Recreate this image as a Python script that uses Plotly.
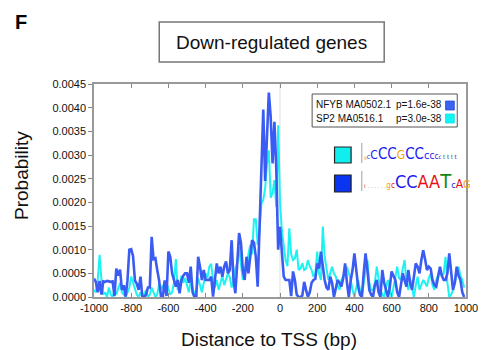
import plotly.graph_objects as go

# ---------------- data ----------------
positions_bp = list(range(-1000, 1000, 10))  # -1000 .. 990

# NFYB (blue) probability, in units of 1e-4
nfyb_e4 = [
    3.9, 3.2, 1.0, 3.4, 0.5, 3.3, 3.2, 3.4, 3.3, 3.2,      # -1000..-910
    3.3, 0.2, 6.0, 4.5, 5.8, 1.5, 2.5, 0.1, 3.5, 10.0,     # -900..-810
    10.1, 8.6, 3.5, 2.8, 1.5, 4.3, 0.0, 0.0, 0.5, 2.0,     # -800..-710
    2.0, 12.7, 8.0, 8.2, 5.7, 3.5, 0.2, 0.0, 3.5, 0.2,     # -700..-610
    9.6, 8.5, 5.0, 3.5, 2.2, 3.6, 0.8, 3.5, 4.5, 5.0,      # -600..-510
    5.0, 3.0, 6.4, 1.0, 0.0, 0.1, 8.5, 6.4, 3.6, 5.7,      # -500..-410
    3.6, 3.6, 3.6, 4.3, 0.1, 3.6, 7.1, 5.0, 6.4, 4.3,      # -400..-310
    6.4, 7.5, 5.0, 5.7, 12.0, 3.6, 0.8, 7.0, 13.5, 11.5,   # -300..-210
    5.7, 3.6, 8.5, 5.0, 8.5, 12.0, 11.5, 8.5, 2.2, 14.0,   # -200..-110
    30.0, 39.6, 24.5, 33.0, 43.2, 38.0, 28.2, 37.0, 27.0, 10.0,  # -100..-10
    14.8, 9.6, 4.3, 3.6, 3.6, 3.6, 0.2, 5.4, 3.6, 0.5,     # 0..90
    0.0, 0.0, 0.3, 3.2, 1.5, 0.0, 1.0, 3.0, 3.6, 3.8,      # 100..190
    7.1, 6.0, 9.6, 6.0, 3.6, 2.0, 1.5, 4.3, 3.0, 0.0,      # 200..290
    1.5, 3.6, 3.0, 2.2, 4.0, 7.1, 3.0, 0.0, 3.5, 5.7,      # 300..390
    9.2, 6.0, 2.2, 0.5, 0.0, 5.0, 9.2, 5.7, 1.5, 0.5,      # 400..490
    0.0, 2.5, 3.6, 1.0, 0.0, 5.7, 3.0, 1.5, 0.0, 2.0,      # 500..590
    5.4, 4.5, 3.6, 1.0, 0.0, 2.5, 5.0, 3.5, 2.2, 5.7,      # 600..690
    3.0, 1.5, 4.0, 7.1, 6.4, 5.0, 7.8, 9.9, 8.0, 5.7,      # 700..790
    6.4, 6.0, 3.6, 2.5, 2.2, 4.0, 6.4, 4.5, 3.6, 3.6,      # 800..890
    5.0, 9.2, 5.0, 1.5, 3.0, 6.4, 4.5, 3.6, 1.0, 0.0,      # 900..990
]

# SP2 (cyan) probability, in units of 1e-4
sp2_e4 = [
    1.5, 1.0, 3.6, 8.9, 3.6, 0.5, 1.0, 0.0, 2.0, 0.5,      # -1000..-910
    0.0, 1.5, 0.5, 2.0, 3.0, 1.0, 0.5, 0.0, 1.0, 2.0,      # -900..-810
    4.3, 3.0, 1.5, 0.5, 0.0, 1.0, 0.0, 0.5, 1.5, 0.0,      # -800..-710
    0.5, 2.0, 1.0, 0.0, 0.5, 2.8, 1.5, 2.5, 1.5, 3.0,      # -700..-610
    1.8, 0.5, 1.0, 3.0, 8.0, 1.5, 2.2, 4.5, 3.0, 4.0,      # -600..-510
    2.5, 1.0, 3.5, 2.0, 0.5, 1.5, 4.0, 2.5, 1.0, 3.0,      # -500..-410
    5.0, 4.0, 6.4, 7.0, 3.5, 2.0, 3.6, 1.5, 2.8, 4.5,      # -400..-310
    2.5, 3.8, 5.0, 4.2, 2.0, 3.5, 6.0, 7.1, 10.6, 7.0,     # -300..-210
    3.6, 6.4, 5.5, 9.0, 11.0, 9.0, 16.4, 16.4, 11.0, 14.0, # -200..-110
    19.8, 20.5, 23.0, 28.0, 31.0, 21.0, 22.0, 24.7, 19.0, 36.3,  # -100..-10
    20.0, 14.0, 10.6, 7.8, 6.5, 14.5, 9.0, 7.8, 8.2, 10.0, # 0..90
    5.7, 6.0, 7.1, 5.7, 6.0, 7.8, 6.5, 5.7, 4.3, 5.0,      # 100..190
    9.6, 5.0, 3.6, 14.9, 8.5, 6.0, 3.6, 5.0, 6.4, 5.0,     # 200..290
    4.3, 2.5, 1.5, 3.6, 4.5, 5.0, 6.4, 5.0, 3.6, 1.5,      # 300..390
    0.0, 2.0, 3.6, 1.5, 0.0, 3.0, 5.0, 7.8, 3.0, 1.5,      # 400..490
    1.5, 3.0, 6.4, 4.0, 1.5, 0.5, 0.0, 2.0, 3.6, 1.5,      # 500..590
    0.0, 2.0, 4.5, 6.4, 4.0, 3.6, 6.0, 7.8, 3.0, 1.5,      # 600..690
    3.6, 1.5, 0.0, 2.5, 4.3, 1.5, 2.5, 3.6, 3.0, 2.2,      # 700..790
    4.0, 5.0, 2.5, 1.5, 3.6, 4.5, 5.7, 4.3, 5.0, 8.5,      # 800..890
    3.0, 0.0, 0.5, 1.5, 3.0, 4.3, 6.4, 4.5, 3.6, 2.0,      # 900..990
]

x_tick_vals = [-1000, -800, -600, -400, -200, 0, 200, 400, 600, 800, 1000]
x_tick_text = ["-1000", "-800", "-600", "-400", "-200", "0", "200", "400", "600", "800", "1000"]
y_tick_vals = [0.0, 0.0005, 0.0010, 0.0015, 0.0020, 0.0025, 0.0030, 0.0035, 0.0040, 0.0045]

legend_names = ["NFYB MA0502.1", "SP2 MA0516.1"]
legend_pvals = ["p=1.6e-38", "p=3.0e-38"]

BLUE = "#3a5cf2"
CYAN = "#1cf2f2"
FONT = "Liberation Sans, Arial, Helvetica, sans-serif"

nfyb = [v * 1e-4 for v in nfyb_e4]
sp2 = [v * 1e-4 for v in sp2_e4]

# ---------------- layout geometry (pixels) ----------------
W, H = 490, 350
L, R, T, B = 94, 476, 84, 297


def px(x):
    return (x - L) / (R - L)


def py(y):
    return (B - y) / (B - T)


fig = go.Figure()
fig.add_trace(go.Scatter(x=positions_bp, y=sp2, mode="lines",
                         line=dict(color=CYAN, width=2), showlegend=False))
fig.add_trace(go.Scatter(x=positions_bp, y=nfyb, mode="lines",
                         line=dict(color=BLUE, width=2.6), showlegend=False))

shapes = []
shapes.append(dict(type="line", xref="x", yref="paper", x0=0, x1=0, y0=0, y1=1,
                   line=dict(color="#dddddd", width=1), layer="below"))
shapes.append(dict(type="rect", xref="paper", yref="paper",
                   x0=px(161), x1=px(392), y0=py(62), y1=py(22),
                   line=dict(color="#777777", width=1.5)))
shapes.append(dict(type="rect", xref="paper", yref="paper",
                   x0=px(318), x1=px(467), y0=py(127), y1=py(94),
                   line=dict(color="#555555", width=1), fillcolor="white"))
shapes.append(dict(type="rect", xref="paper", yref="paper",
                   x0=px(455), x1=px(464), y0=py(110), y1=py(101),
                   line=dict(color="#2a4ad8", width=0.8), fillcolor="#3b63f0"))
shapes.append(dict(type="rect", xref="paper", yref="paper",
                   x0=px(455), x1=px(464), y0=py(123), y1=py(114),
                   line=dict(color="#11dede", width=0.8), fillcolor="#11f5f5"))
shapes.append(dict(type="rect", xref="paper", yref="paper",
                   x0=px(341), x1=px(358), y0=py(163), y1=py(147),
                   line=dict(color="#222222", width=1.2), fillcolor="#11eeee"))
shapes.append(dict(type="rect", xref="paper", yref="paper",
                   x0=px(341), x1=px(358), y0=py(192), y1=py(175),
                   line=dict(color="#222222", width=1.2), fillcolor="#0a35f0"))
for y0, y1 in [(143, 163), (171, 191)]:
    shapes.append(dict(type="line", xref="paper", yref="paper",
                       x0=px(369), x1=px(369), y0=py(y1), y1=py(y0),
                       line=dict(color="#888888", width=0.8)))

annotations = []
annotations.append(dict(text="<b>F</b>", x=px(11), y=py(22), xref="paper", yref="paper",
                        xanchor="left", yanchor="middle", showarrow=False,
                        font=dict(family=FONT, size=20, color="black")))
annotations.append(dict(text="Down-regulated genes", x=px(276), y=py(42), xref="paper",
                        yref="paper", xanchor="center", yanchor="middle", showarrow=False,
                        font=dict(family=FONT, size=19, color="#111111")))
annotations.append(dict(text="Probability", x=px(19), y=py(175), xref="paper", yref="paper",
                        xanchor="center", yanchor="middle", showarrow=False, textangle=-90,
                        font=dict(family=FONT, size=19, color="#111111")))
annotations.append(dict(text="Distance to TSS (bp)", x=px(274), y=py(339), xref="paper",
                        yref="paper", xanchor="center", yanchor="middle", showarrow=False,
                        font=dict(family=FONT, size=19, color="#111111")))
for i, (nm, pv) in enumerate(zip(legend_names, legend_pvals)):
    yy = 104.5 + i * 14
    annotations.append(dict(text=nm, x=px(320), y=py(yy), xref="paper", yref="paper",
                            xanchor="left", yanchor="middle", showarrow=False,
                            font=dict(family=FONT, size=10, color="#111111")))
    annotations.append(dict(text=pv, x=px(453), y=py(yy), xref="paper", yref="paper",
                            xanchor="right", yanchor="middle", showarrow=False,
                            font=dict(family=FONT, size=10, color="#111111")))


def sp(t, color, size):
    return f"<span style='color:{color};font-size:{size}px'>{t}</span>"


BL, OR, RD, GR = "#1a1aee", "#f5a300", "#e81010", "#118811"
logo1 = (sp("g", OR, 5) + sp("c", BL, 7) + sp("C", BL, 12) + sp("C", BL, 15) + sp("C", BL, 15)
         + sp("G", OR, 12) + sp("C", BL, 15) + sp("C", BL, 15) + sp("c", BL, 11)
         + sp("c", BL, 10) + sp("c", BL, 8) + sp("c", BL, 6) + sp(" t", GR, 6)
         + sp(" t", BL, 6) + sp(" t", GR, 6) + sp(" t", BL, 6))
logo2 = (sp("t", RD, 5) + sp(" . . . . . .", "#999999", 6) + sp("g", OR, 8) + sp("c", RD, 8)
         + sp("C", BL, 18) + sp("C", BL, 18) + sp("A", RD, 18) + sp("A", RD, 18)
         + sp("T", GR, 20) + sp("c", BL, 9) + sp("A", RD, 12) + sp("G", OR, 11))
annotations.append(dict(text=logo1, x=px(370), y=py(164), xref="paper", yref="paper",
                        xanchor="left", yanchor="bottom", showarrow=False,
                        font=dict(family="DejaVu Sans Condensed, Liberation Sans Narrow, sans-serif",
                                  size=12), borderpad=0))
annotations.append(dict(text=logo2, x=px(370), y=py(194), xref="paper", yref="paper",
                        xanchor="left", yanchor="bottom", showarrow=False,
                        font=dict(family="DejaVu Sans Condensed, Liberation Sans Narrow, sans-serif",
                                  size=12), borderpad=0))

fig.update_layout(
    width=W, height=H,
    margin=dict(l=L, r=W - R, t=T, b=H - B),
    paper_bgcolor="white", plot_bgcolor="white",
    shapes=shapes, annotations=annotations,
    font=dict(family=FONT, size=11, color="#111111"),
    xaxis=dict(range=[-1000, 1000], tickvals=x_tick_vals, ticktext=x_tick_text,
               ticks="inside", ticklen=4, tickcolor="#888888", mirror="allticks",
               showline=True, linecolor="#999999", linewidth=1.5, showgrid=False,
               zeroline=False, tickfont=dict(size=11)),
    yaxis=dict(range=[0, 0.0045], tickvals=y_tick_vals, tickformat=".4f",
               ticks="outside", ticklen=4, tickcolor="#888888", mirror=True,
               showline=True, linecolor="#999999", linewidth=1.5, showgrid=False,
               zeroline=False, tickfont=dict(size=11)),
)

fig.write_html("out.html", config={"displayModeBar": False},
               post_script="document.body.style.margin='0px';")
